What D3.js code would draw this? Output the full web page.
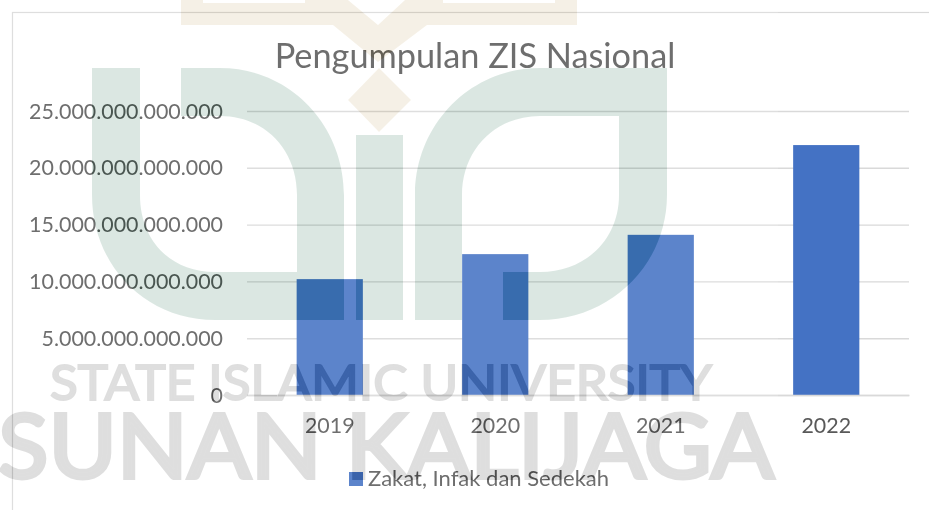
<!DOCTYPE html>
<html>
<head>
<meta charset="utf-8">
<script src="https://cdn.jsdelivr.net/npm/d3@7/dist/d3.min.js"></script>
<style>
  html, body { margin: 0; padding: 0; background: #fff; overflow: hidden; }
  svg { display: block; font-family: Lato, "Open Sans", sans-serif; }
</style>
</head>
<body>
<div id="chart"></div>
<script>
var years = ["2019", "2020", "2021", "2022"];
var zisValues = [10200000000000, 12400000000000, 14100000000000, 22000000000000];
var yTicks = [0, 5000000000000, 10000000000000, 15000000000000, 20000000000000, 25000000000000];
var seriesName = "Zakat, Infak dan Sedekah";
var chartTitle = "Pengumpulan ZIS Nasional";
var watermarkLines = ["STATE ISLAMIC UNIVERSITY", "SUNAN KALIJAGA", "YOGYAKARTA"];

var width = 929, height = 510;
var svg = d3.select("#chart").append("svg").attr("width", width).attr("height", height);
svg.append("rect").attr("width", width).attr("height", height).attr("fill", "#fff");

// Chart frame runs off the right and bottom of the page
svg.append("rect").attr("x", 12.5).attr("y", 12.5).attr("width", 940).attr("height", 520)
  .attr("fill", "none").attr("stroke", "#d9d9d9").attr("stroke-width", 1.2);

var locale = d3.formatLocale({ decimal: ",", thousands: ".", grouping: [3], currency: ["", ""] });

// Scales
var x = d3.scaleBand().domain(years).range([247, 909]).paddingInner(0.6).paddingOuter(0.3);
var y = d3.scaleLinear().domain([0, 25000000000000]).range([395, 111]);

// Y axis doubles as the grid
var yAxis = svg.append("g").attr("transform", "translate(247,0)")
  .call(d3.axisLeft(y).tickValues(yTicks).tickFormat(locale.format(",.0f")).tickSize(-662).tickPadding(24))
  .attr("font-family", null);
yAxis.select(".domain").remove();
yAxis.selectAll("line").attr("stroke", "#d9d9d9").attr("stroke-width", 1.4);
yAxis.selectAll("text").attr("fill", "#595959").style("font-size", "21.4px").attr("dy", "0.33em");

// Bars
svg.selectAll(".bar").data(zisValues).join("rect")
  .attr("class", "bar")
  .attr("x", function (d, i) { return x(years[i]); })
  .attr("y", function (d) { return y(d); })
  .attr("width", x.bandwidth())
  .attr("height", function (d) { return y(0) - y(d); })
  .attr("fill", "#4472c4");

// X axis
var xAxis = svg.append("g").attr("transform", "translate(0,395)")
  .call(d3.axisBottom(x).tickSize(0).tickPadding(23))
  .attr("font-family", null);
xAxis.select(".domain").attr("stroke", "#d9d9d9").attr("stroke-width", 1.4);
xAxis.selectAll("text").attr("fill", "#595959").style("font-size", "21.4px");

// Title
svg.append("text").attr("x", 475).attr("y", 68).attr("text-anchor", "middle")
  .attr("fill", "#595959").style("font-size", "34.3px").text(chartTitle);

// Legend
svg.append("rect").attr("x", 349).attr("y", 472).attr("width", 14).attr("height", 14).attr("fill", "#4472c4");
svg.append("text").attr("x", 368).attr("y", 486).attr("fill", "#595959")
  .style("font-size", "22px").text(seriesName);

// ── Watermark ─────────────────────────────────────────
// Faded page scan sits on top of the chart and washes out all but the last bar
svg.append("rect").attr("x", 0).attr("y", 0).attr("width", 778).attr("height", height)
  .attr("fill", "#fff").attr("opacity", 0.13);

var wm = svg.append("g");
var green = "rgb(36,24,29)", beige = "rgb(10,15,25)", grey = "rgb(33,33,33)";

function mark(d, fill) {
  wm.append("path").attr("d", d).attr("fill", fill).attr("fill-rule", "evenodd")
    .style("mix-blend-mode", "difference");
}

// Green letters
mark("M92,68 H140 V195 C140,240 170,272 215,272 H297 V195 C297,150 265,116 220,116 H181 V68 H220 C290,68 344,125 344,195 V320 H215 C145,320 92,265 92,195 Z", green);
mark("M356,135 H403 V320 H356 Z", green);
mark("M667,68 H540 C470,68 415,125 415,195 V320 H462 V195 C462,150 495,116 540,116 H619 V195 C619,240 585,272 540,272 H503 V320 H540 C610,320 667,265 667,195 Z", green);

// Beige ornament
mark("M181,0 V25 H333 L378,62 L427,25 H577 V0 H555 V3 H443 V0 H405 L378,25 L348,0 H305 V3 H203 V0 Z", beige);
mark("M379,68 L411,100 L379,132 L348,100 Z", beige);

// Grey lettering, fitted to the widths in the scan
function wmText(t, x0, base, size, len, sw) {
  wm.append("text").attr("x", x0).attr("y", base)
    .attr("textLength", len).attr("lengthAdjust", "spacingAndGlyphs")
    .attr("fill", grey).attr("stroke", grey).attr("stroke-width", sw)
    .style("font-size", size + "px")
    .style("mix-blend-mode", "difference").text(t);
}
wmText(watermarkLines[0], 50, 400, 48, 662, 2);
wmText(watermarkLines[1], -2, 478, 90, 776, 4);
wmText(watermarkLines[2], 40, 577, 90, 690, 2);
</script>
</body>
</html>
